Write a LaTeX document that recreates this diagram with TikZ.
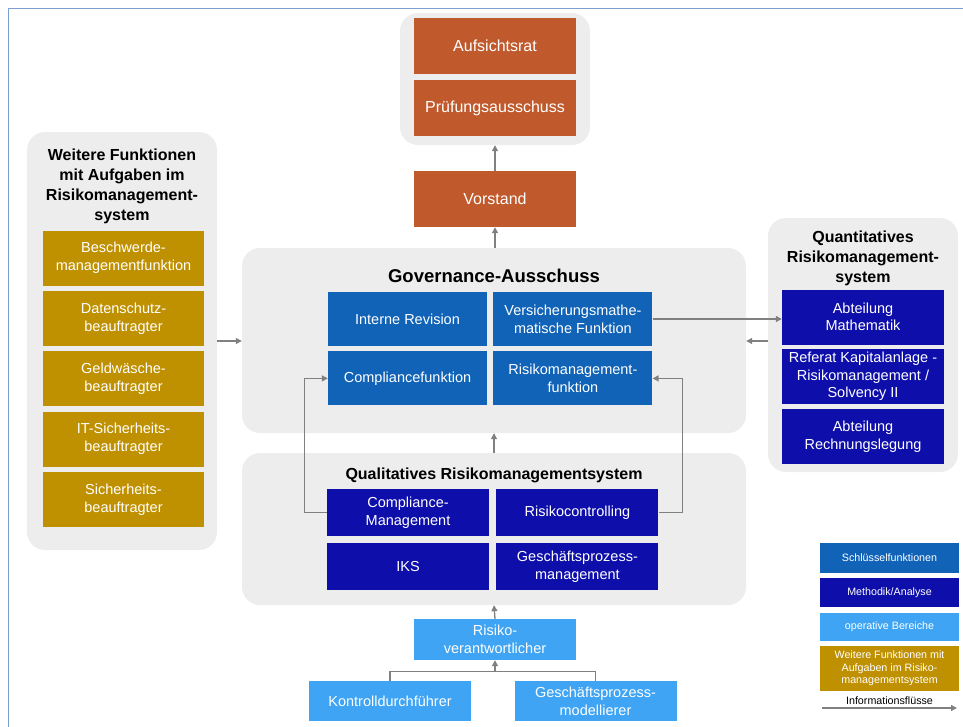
\documentclass[tikz,border=0pt]{standalone}
\usepackage{fontspec}
\setmainfont{Liberation Sans}
\usepackage{tikz}
\usetikzlibrary{positioning, arrows.meta}
\definecolor{orangebox}{RGB}{192,90,44}
\definecolor{keyblue}{RGB}{16,99,183}
\definecolor{darkblue}{RGB}{14,14,170}
\definecolor{lightblue}{RGB}{62,164,243}
\definecolor{goldbox}{RGB}{191,144,0}
\definecolor{panelgray}{RGB}{237,237,237}
\definecolor{flowgray}{RGB}{128,128,128}
\definecolor{framecol}{RGB}{124,160,210}
\tikzset{
  >={Triangle[length=6pt, width=6pt]},
  node distance=5pt,
  box/.style={text=white, inner sep=0pt, align=center,
    font=\fontsize{14.5}{18}\selectfont},
  board/.style={box, fill=orangebox, minimum width=162pt, minimum height=56pt,
    font=\fontsize{16}{19}\selectfont},
  keyfn/.style={box, fill=keyblue, minimum width=159pt, minimum height=54pt},
  method/.style={box, fill=darkblue, minimum width=162pt, minimum height=47pt},
  quant/.style={box, fill=darkblue, minimum width=162pt, minimum height=55pt,
    font=\fontsize{14.5}{17.5}\selectfont},
  oper/.style={box, fill=lightblue, minimum width=162pt, minimum height=41pt},
  further/.style={box, fill=goldbox, minimum width=161pt, minimum height=55pt},
  legend/.style={box, minimum width=139pt, font=\fontsize{10.7}{12.5}\selectfont},
  panel/.style={fill=panelgray, rounded corners=18pt, inner sep=0pt},
  head/.style={align=center, font=\bfseries\fontsize{16}{20}\selectfont},
  flow/.style={->, draw=flowgray, line width=1.3pt},
}
\begin{document}
\begin{tikzpicture}[x=1pt, y=-1pt]
  \useasboundingbox (0,0) rectangle (963,726);
  \draw[framecol, line width=1.5pt] (8.5,730) -- (8.5,8.5) -- (970,8.5);

  % panels
  \node[panel, minimum width=190pt, minimum height=132pt] (top) at (495,79) {};
  \node[panel, minimum width=504pt, minimum height=185pt] (gov) at (494,340.5) {};
  \node[panel, minimum width=504pt, minimum height=152pt] (qual) at (494,529) {};
  \node[panel, minimum width=190pt, minimum height=418pt] (left) at (122,341) {};
  \node[panel, minimum width=190pt, minimum height=254pt] (right) at (863,345) {};

  % board
  \node[board] (ar) at (495,46) {Aufsichtsrat};
  \node[board, below=6pt of ar] (pa) {Prüfungsausschuss};
  \node[board] (vor) at (495,199) {Vorstand};

  % governance
  \node[head, font=\bfseries\fontsize{18.5}{22}\selectfont] (govT) at (494,276) {Governance-Ausschuss};
  \node[keyfn] (ir) at (407.5,319) {Interne Revision};
  \node[keyfn, right=6pt of ir] (vmf) {Versicherungsmathe-\\matische Funktion};
  \node[keyfn, below=5pt of ir] (cf) {Compliancefunktion};
  \node[keyfn, below=5pt of vmf] (rmf) {Risikomanagement-\\funktion};

  % qualitative
  \node[head] (qualT) at (494,475) {Qualitatives Risikomanagementsystem};
  \node[method] (cm) at (408,512.5) {Compliance-\\Management};
  \node[method, right=7pt of cm] (rc) {Risikocontrolling};
  \node[method, below=7pt of cm] (iks) {IKS};
  \node[method, below=7pt of rc] (gpm) {Geschäftsprozess-\\management};

  % operative
  \node[oper] (rv) at (495,639.5) {Risiko-\\verantwortlicher};
  \node[oper, minimum height=40pt] (kd) at (390,701) {Kontrolldurchführer};
  \node[oper, minimum height=40pt] (gm) at (595.5,701) {Geschäftsprozess-\\modellierer};

  % further functions
  \node[head] (leftT) at (122,186) {Weitere Funktionen\\mit Aufgaben im\\Risikomanagement-\\system};
  \node[further] (bm) at (123.5,258) {Beschwerde-\\managementfunktion};
  \node[further, below=5pt of bm] (ds) {Datenschutz-\\beauftragter};
  \node[further, below=5pt of ds] (gw) {Geldwäsche-\\beauftragter};
  \node[further, below=5pt of gw] (it) {IT-Sicherheits-\\beauftragter};
  \node[further, below=5pt of it] (sb) {Sicherheits-\\beauftragter};

  % quantitative
  \node[head] (rightT) at (863,258) {Quantitatives\\Risikomanagement-\\system};
  \node[quant] (am) at (863,317) {Abteilung\\Mathematik};
  \node[quant, below=4pt of am] (rk) {Referat Kapitalanlage -\\Risikomanagement /\\Solvency II};
  \node[quant, below=5pt of rk] (rl) {Abteilung\\Rechnungslegung};

  % legend
  \node[legend, fill=keyblue, minimum height=30pt] (l1) at (889.5,558) {Schlüsselfunktionen};
  \node[legend, fill=darkblue, minimum height=29pt, below=5pt of l1] (l2) {Methodik/Analyse};
  \node[legend, fill=lightblue, minimum height=28pt, below=5pt of l2] (l3) {operative Bereiche};
  \node[legend, fill=goldbox, minimum height=45pt, below=5pt of l3] (l4) {Weitere Funktionen mit\\Aufgaben im Risiko-\\managementsystem};
  \coordinate (ia) at (822,708);
  \coordinate (ib) at (957,708);

  % flows
  \draw[flow] (vor.north) -- (top.south);
  \draw[flow] (vor.south |- gov.north) -- (vor.south);
  \draw[flow] (qual.north) -- (gov.south);
  \draw[flow] (rv.north) -- (qual.south);
  \draw[flowgray, line width=1.3pt] (kd.north) -- ++(0,-9) coordinate (kl) -| (gm.north);
  \draw[flow] (rv.south |- kl) -- (rv.south);
  \draw[flow] (cm.west) -- ++(-22,0) |- (cf.west);
  \draw[flow] (rc.east) -- ++(24,0) |- (rmf.east);
  \draw[flow] (vmf.east) -- (vmf.east -| am.west);
  \draw[flow] ([yshift=4pt]right.west) -- ([yshift=4pt]right.west -| gov.east);
  \draw[flow] (left.east) -- (left.east -| gov.west);
  \draw[flow] (ia) -- node[above=-1pt, font=\fontsize{10.7}{12}\selectfont] (ilab) {Informationsflüsse} (ib);
\end{tikzpicture}
\end{document}
